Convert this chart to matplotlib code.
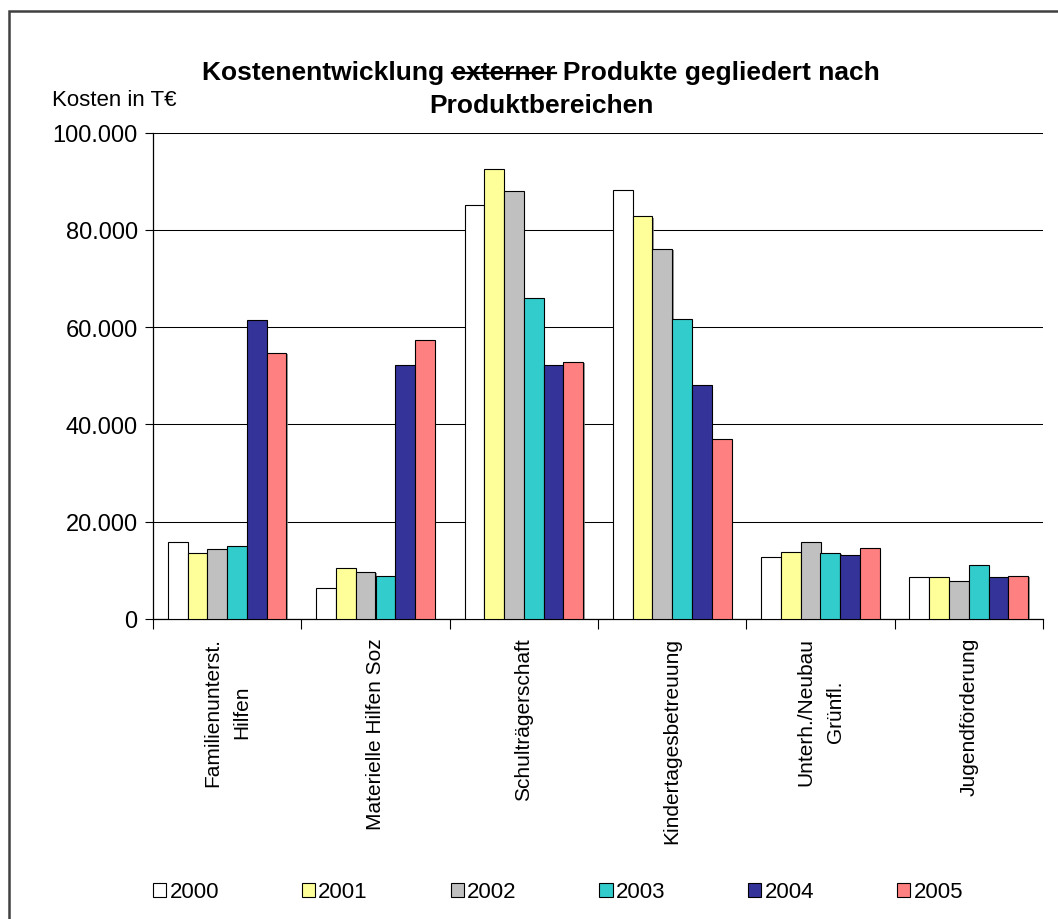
import matplotlib
matplotlib.use("Agg")
import matplotlib.pyplot as plt
import matplotlib.patheffects as pe
from matplotlib.patches import Rectangle
from matplotlib.lines import Line2D
from matplotlib.ticker import FuncFormatter, FixedLocator
import numpy as np

plt.rcParams['font.family'] = ['Liberation Sans', 'DejaVu Sans']

categories = ["Familienunterst.\nHilfen", "Materielle Hilfen Soz", "Schulträgerschaft",
              "Kindertagesbetreuung", "Unterh./Neubau\nGrünfl.", "Jugendförderung"]
years = ["2000", "2001", "2002", "2003", "2004", "2005"]

# costs in thousand euro, one list per year, ordered like categories
costs_2000 = [15900, 6300, 85100, 88200, 12700, 8600]
costs_2001 = [13600, 10400, 92400, 82800, 13800, 8600]
costs_2002 = [14300, 9700, 88000, 76100, 15900, 7900]
costs_2003 = [15100, 8800, 65900, 61700, 13600, 11000]
costs_2004 = [61400, 52200, 52200, 48000, 13100, 8700]
costs_2005 = [54700, 57400, 52900, 37000, 14500, 8900]
series = [costs_2000, costs_2001, costs_2002, costs_2003, costs_2004, costs_2005]

colors = ["#FFFFFF", "#FFFF99", "#C0C0C0", "#33CCCC", "#333399", "#FF8080"]

W, H = 1058, 920
fig = plt.figure(figsize=(W / 100, H / 100), dpi=100)
ax = fig.add_axes([153 / W, 1 - 620 / H, (1043 - 153) / W, (620 - 133.5) / H])

shadow = [pe.SimplePatchShadow(offset=(1.0, -1.0), shadow_rgbFace="#808080", alpha=0.8), pe.Normal()]

x = np.arange(len(categories))
group_w = 0.8
bar_w = group_w / len(years)
for i, (vals, col, yr) in enumerate(zip(series, colors, years)):
    pos = x - group_w / 2 + bar_w * (i + 0.5)
    bars = ax.bar(pos, vals, width=bar_w, color=col, edgecolor="black",
                  linewidth=0.8, label=yr, zorder=3)
    for b in bars:
        b.set_path_effects(shadow)

ax.set_xlim(-0.5, len(categories) - 0.5)
ax.set_ylim(0, 100000)
ax.set_yticks(np.arange(0, 100001, 20000))
ax.yaxis.set_major_formatter(FuncFormatter(lambda v, p: f"{int(v):,}".replace(",", ".")))
ax.yaxis.grid(True, color="black", linewidth=0.75, zorder=0)
ax.set_axisbelow(True)

ax.set_xticks(x)
ax.set_xticklabels(categories, rotation=90, ha="center", va="top",
                   multialignment="center", fontsize=15, linespacing=1.7)
ax.tick_params(axis="x", which="major", length=0, pad=13)
ax.xaxis.set_minor_locator(FixedLocator(np.arange(-0.5, len(categories), 1.0)))
ax.tick_params(axis="x", which="minor", length=7, width=0.8, direction="out")
ax.tick_params(axis="y", length=6, width=0.8, direction="out", labelsize=17, pad=5)

for s in ["top", "right"]:
    ax.spines[s].set_visible(False)
for s in ["left", "bottom"]:
    ax.spines[s].set_linewidth(0.9)

fig.text(52 / W, 1 - 101 / H, "Kosten in T€", fontsize=16, ha="left", va="center")

# two-line title with the word "externer" struck through
TITLE_SIZE = 19
title_kw = dict(fontsize=TITLE_SIZE, fontweight="bold", ha="center", va="baseline")
line1 = "Kostenentwicklung externer Produkte gegliedert nach"
t1 = fig.text(541 / W, 1 - 80 / H, line1, **title_kw)
fig.text(541 / W, 1 - 113 / H, "Produktbereichen", **title_kw)

fig.canvas.draw()
renderer = fig.canvas.get_renderer()
def text_width(s):
    tmp = fig.text(0, 0, s, fontsize=TITLE_SIZE, fontweight="bold")
    w = tmp.get_window_extent(renderer).width
    tmp.remove()
    return w
bb = t1.get_window_extent(renderer)
end = bb.x0 + text_width("Kostenentwicklung externer")
start = end - text_width("externer")
strike_y = (H - 80) + 6
fig.add_artist(Line2D([start / W, end / W], [strike_y / H, strike_y / H],
                      transform=fig.transFigure, color="black", linewidth=1.6))

# legend along the bottom
handles = [Rectangle((0, 0), 1, 1, facecolor=c, edgecolor="black", linewidth=0.8) for c in colors]
fig.legend(handles, years, loc="center", ncol=6, frameon=False, fontsize=16,
           bbox_to_anchor=(144 / W, 1 - 910 / H, 828 / W, 34 / H), mode="expand",
           handlelength=0.6, handleheight=0.6, handletextpad=0.15, borderaxespad=0)

# outer chart frame
fig.add_artist(Rectangle((9 / W, -0.02), 1.05, 1 - 12 / H + 0.02, transform=fig.transFigure,
                         fill=False, edgecolor="#404040", linewidth=1.8))

fig.savefig("out.png", dpi=100)
